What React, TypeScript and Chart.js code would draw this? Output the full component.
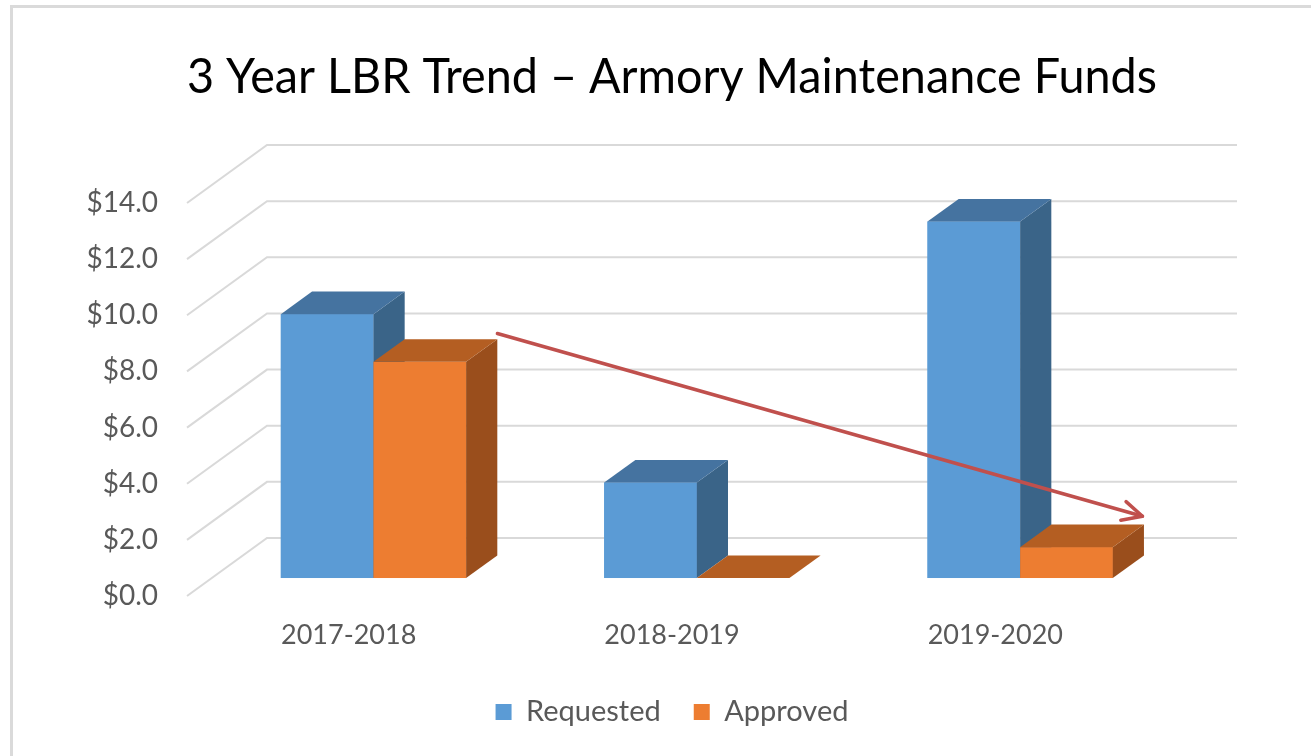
import React, { useEffect, useRef } from "react";
import { Chart, registerables } from "chart.js";

Chart.register(...registerables);

// ---- data ----
const categories = ["2017-2018", "2018-2019", "2019-2020"];
const seriesNames = ["Requested", "Approved"];
const requested = [9.4, 3.4, 12.7];
const approved = [7.7, 0, 1.1];
const yTickValues = [0, 2, 4, 6, 8, 10, 12, 14];
const yTickLabels = ["$0.0", "$2.0", "$4.0", "$6.0", "$8.0", "$10.0", "$12.0", "$14.0"];
// trend arrow annotation in data coordinates: [category position, value]
const trendArrowStart = [0.46, 9.35];
const trendArrowEnd = [2.455, 2.84];

const titleText = "3 Year LBR Trend \u2013 Armory Maintenance Funds";

// ---- styles ----
const FONT = "Lato";
const TEXT_GRAY = "#595959";
const GRID_GRAY = "#D9D9D9";
const FRONT = ["#5B9BD5", "#ED7D31"];
const TOP = ["#4573A0", "#B45E22"];
const SIDE = ["#3A6488", "#9A4E1C"];
const DEPTH_X = 80;
const DEPTH_Y = -58;
const BAR_FRONT = 0.31;
const BAR_DEPTH = 0.39;

const framePlugin = {
  id: "frame",
  beforeDraw(chart: any) {
    const { ctx, width, height } = chart;
    ctx.save();
    ctx.fillStyle = "#FFFFFF";
    ctx.fillRect(0, 0, width, height);
    ctx.fillStyle = "#DADADA";
    ctx.fillRect(10, 5, width - 10, 3);
    ctx.fillRect(10, 5, 3, height - 5);
    ctx.restore();
  },
};

const bars3dPlugin = {
  id: "bars3d",
  beforeDatasetsDraw(chart: any) {
    const { ctx, chartArea, scales } = chart;
    const y = scales.y;
    ctx.save();
    ctx.strokeStyle = GRID_GRAY;
    ctx.lineWidth = 2;
    yTickValues.forEach((v) => {
      const py = y.getPixelForValue(v);
      ctx.beginPath();
      ctx.moveTo(chartArea.left, py);
      ctx.lineTo(chartArea.left + DEPTH_X, py + DEPTH_Y);
      ctx.lineTo(chartArea.right + DEPTH_X, py + DEPTH_Y);
      ctx.stroke();
    });
    ctx.restore();
    ctx.save();
    ctx.translate(DEPTH_X * BAR_FRONT, DEPTH_Y * BAR_FRONT);
  },
  afterDatasetsDraw(chart: any) {
    const ctx = chart.ctx;
    const dx = DEPTH_X * BAR_DEPTH;
    const dy = DEPTH_Y * BAR_DEPTH;
    const items: any[] = [];
    chart.data.datasets.forEach((_d: any, di: number) => {
      const meta = chart.getDatasetMeta(di);
      meta.data.forEach((bar: any) => {
        const p = bar.getProps(["x", "y", "base", "width"], true);
        items.push({ ...p, di });
      });
    });
    items.sort((a, b) => a.x - b.x);
    items.forEach(({ x, y, base, width, di }) => {
      const l = x - width / 2;
      const r = x + width / 2;
      ctx.fillStyle = FRONT[di];
      ctx.fillRect(l, Math.min(y, base), width, Math.abs(base - y));
      ctx.fillStyle = SIDE[di];
      ctx.beginPath();
      ctx.moveTo(r, y);
      ctx.lineTo(r + dx, y + dy);
      ctx.lineTo(r + dx, base + dy);
      ctx.lineTo(r, base);
      ctx.closePath();
      ctx.fill();
      ctx.fillStyle = TOP[di];
      ctx.beginPath();
      ctx.moveTo(l, y);
      ctx.lineTo(l + dx, y + dy);
      ctx.lineTo(r + dx, y + dy);
      ctx.lineTo(r, y);
      ctx.closePath();
      ctx.fill();
    });
    ctx.restore();
  },
};

const arrowPlugin = {
  id: "trendArrow",
  afterDraw(chart: any) {
    const { ctx, scales } = chart;
    const x1 = scales.x.getPixelForValue(trendArrowStart[0]);
    const y1 = scales.y.getPixelForValue(trendArrowStart[1]);
    const x2 = scales.x.getPixelForValue(trendArrowEnd[0]);
    const y2 = scales.y.getPixelForValue(trendArrowEnd[1]);
    const ang = Math.atan2(y2 - y1, x2 - x1);
    const head = 22;
    const spread = (26 * Math.PI) / 180;
    ctx.save();
    ctx.strokeStyle = "#C0504D";
    ctx.lineWidth = 3.5;
    ctx.lineCap = "round";
    ctx.lineJoin = "round";
    ctx.beginPath();
    ctx.moveTo(x1, y1);
    ctx.lineTo(x2, y2);
    ctx.stroke();
    ctx.beginPath();
    ctx.moveTo(x2 - head * Math.cos(ang - spread), y2 - head * Math.sin(ang - spread));
    ctx.lineTo(x2, y2);
    ctx.lineTo(x2 - head * Math.cos(ang + spread), y2 - head * Math.sin(ang + spread));
    ctx.stroke();
    ctx.restore();
  },
};

export default function App() {
  const canvasRef = useRef<HTMLCanvasElement | null>(null);

  useEffect(() => {
    if (!canvasRef.current) return;
    const chart = new Chart(canvasRef.current, {
      type: "bar",
      data: {
        labels: categories,
        datasets: [
          {
            label: seriesNames[0],
            data: requested,
            backgroundColor: FRONT[0],
            borderWidth: 0,
            clip: false as any,
          },
          {
            label: seriesNames[1],
            data: approved,
            backgroundColor: FRONT[1],
            borderWidth: 0,
            clip: false as any,
          },
        ],
      },
      options: {
        responsive: false,
        animation: false,
        devicePixelRatio: 1,
        datasets: { bar: { categoryPercentage: 0.573, barPercentage: 1 } },
        layout: { padding: { left: 0, right: 154, top: 0, bottom: 19.5 } },
        plugins: {
          title: {
            display: true,
            text: titleText,
            fullSize: false,
            color: "#000000",
            font: { family: FONT, size: 48, weight: "normal", lineHeight: 1.2 },
            padding: { top: 49, bottom: 96.4 },
          },
          legend: {
            position: "bottom",
            fullSize: false,
            labels: {
              boxWidth: 16,
              boxHeight: 16,
              padding: 33,
              color: TEXT_GRAY,
              font: { family: FONT, size: 29 },
            },
          },
          tooltip: { enabled: false },
        },
        scales: {
          x: {
            grid: { display: false, drawTicks: false },
            border: { display: false },
            ticks: { color: TEXT_GRAY, font: { family: FONT, size: 27 }, padding: 23 },
            afterFit(s: any) {
              s.height = 68.5;
            },
          },
          y: {
            min: 0,
            max: 14,
            grid: { display: false, drawTicks: false },
            border: { display: false },
            afterBuildTicks(s: any) {
              s.ticks = yTickValues.map((v) => ({ value: v }));
            },
            ticks: {
              color: TEXT_GRAY,
              font: { family: FONT, size: 28 },
              padding: 29,
              callback: (_v: any, i: number) => yTickLabels[i],
            },
            afterFit(s: any) {
              s.width = 187;
            },
          },
        },
      } as any,
      plugins: [framePlugin, bars3dPlugin, arrowPlugin],
    });
    return () => chart.destroy();
  }, []);

  return (
    <div style={{ position: "fixed", left: 0, top: 0, width: 1311, height: 756, background: "#fff" }}>
      <canvas ref={canvasRef} width={1311} height={756} style={{ display: "block", width: 1311, height: 756 }} />
    </div>
  );
}
